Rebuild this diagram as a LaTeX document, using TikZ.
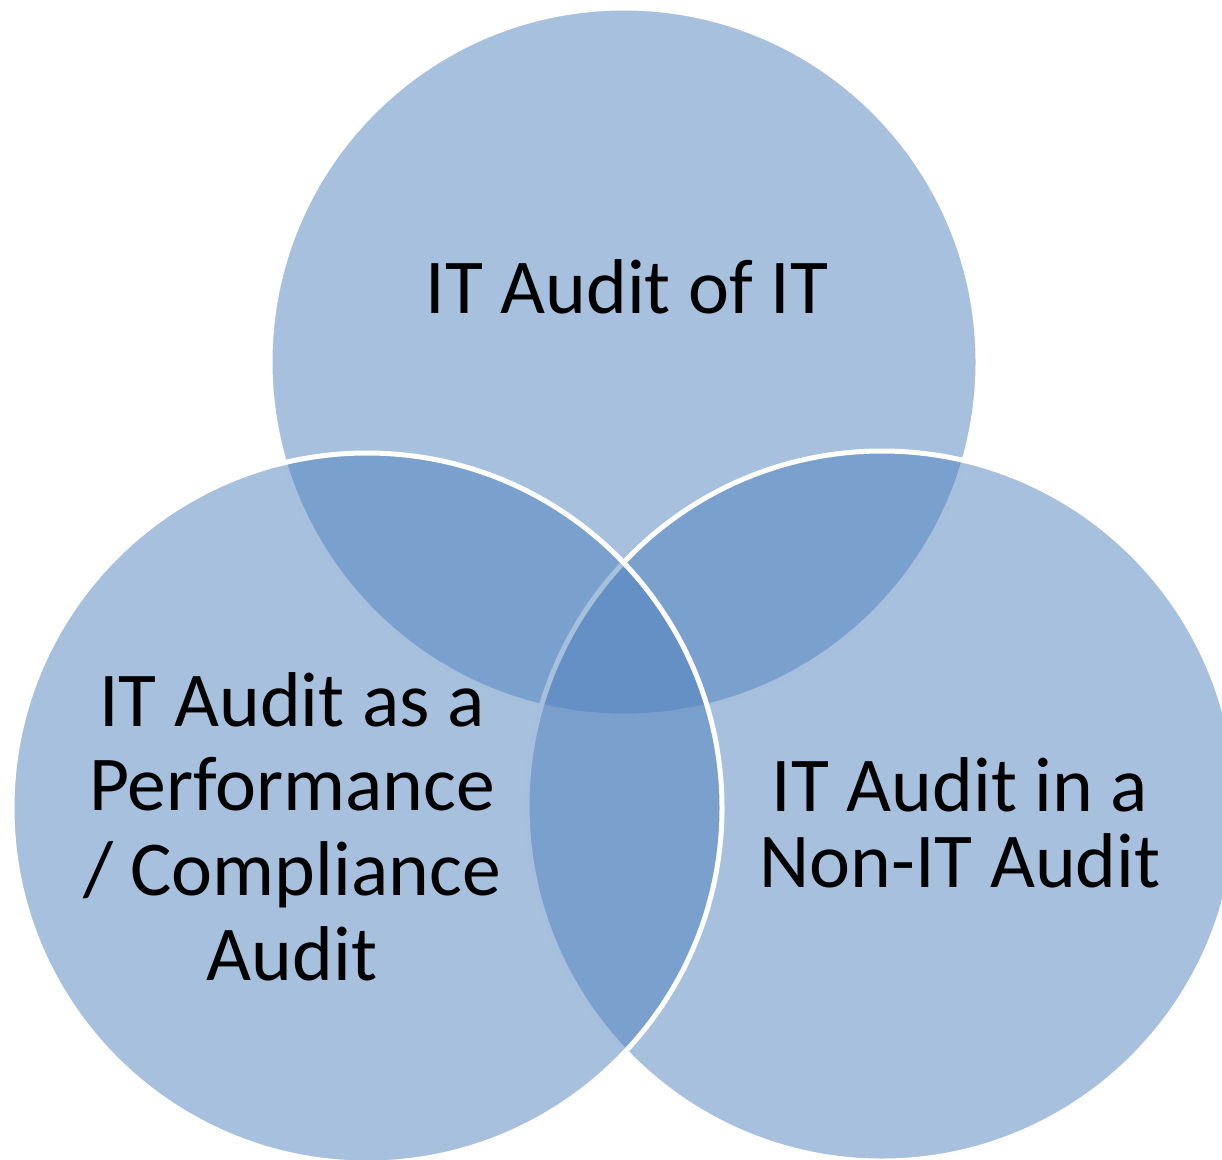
\documentclass[tikz,border=0pt]{standalone}
\usepackage{fontspec}
\setmainfont{Carlito}
\definecolor{accent}{HTML}{4F81BD}
\begin{document}
\begin{tikzpicture}[x=0.02cm,y=-0.02cm,
  vcircle/.style={fill=accent,fill opacity=0.5,draw=white,draw opacity=1,line width=0.1cm},
  vlabel/.style={text=black,align=center,inner sep=0pt,anchor=base}]
\useasboundingbox (0,0) rectangle (1222,1159);
\begin{scope}
\clip (0,0) rectangle (1222,1159);
\path[vcircle] (624,362) circle[radius=354];
\path[vcircle] (882,806) circle[radius=355];
\path[vcircle] (367,808) circle[radius=355];
\end{scope}
\node[vlabel,font=\fontsize{44.2pt}{48pt}\selectfont] (top) at (627,313) {IT Audit of IT};
\node[vlabel,font=\fontsize{44.2pt}{48.1pt}\selectfont] (left) at (292,980) {IT Audit as a\\Performance\\/ Compliance\\Audit};
\node[vlabel,font=\fontsize{44.2pt}{42.7pt}\selectfont] (right) at (960,887) {IT Audit in a\\Non-IT Audit};
\end{tikzpicture}
\end{document}
